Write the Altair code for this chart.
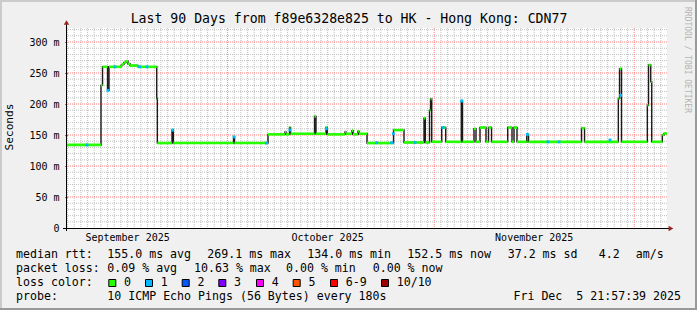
import altair as alt
import pandas as pd

MONO = "DejaVu Sans Mono"
LEFT, TOP, W, H = 67, 28, 600, 200
T0 = pd.Timestamp("2025-09-06 21:57:39")
SPAN_DAYS = 90
Y_MAX = 322.6

def day(ts):
    return (pd.Timestamp(ts) - T0) / pd.Timedelta(days=1)

# ---------------- data ----------------
# median rtt (ms), piecewise constant: day (since start) where a level begins -> level
rtt_day = [0, 5.10, 5.33, 6.08, 6.30, 8.10, 8.25, 8.55, 8.85, 9.15, 9.45, 10.65, 13.46, 13.55,
           15.75, 15.95, 24.98, 25.13, 30.15, 32.70, 32.85, 33.38, 33.53, 37.13, 37.35, 38.85,
           39.05, 41.70, 41.85, 42.75, 42.90, 43.65, 43.80, 45.00, 48.98, 50.55, 53.55, 53.75,
           54.38, 54.53, 54.71, 56.21, 56.81, 59.15, 59.33, 61.05, 61.35, 61.95, 62.85, 63.23,
           63.68, 66.11, 66.75, 67.05, 67.50, 68.96, 69.23, 77.18, 77.63, 82.70, 82.88, 83.18,
           87.05, 87.23, 87.56, 87.71, 89.30, 89.55]
rtt_ms = [134, 230, 260, 222, 260, 262, 264, 267, 269, 265, 262, 260, 209, 137,
          158, 137, 147, 137, 151, 155, 151, 162, 152, 180, 152, 162,
          151, 155, 152, 157, 151, 156, 152, 137, 158, 138, 177, 138,
          190, 208, 139, 162, 139, 205, 139, 160, 139, 162, 139, 162,
          139, 162, 139, 162, 139, 151, 139, 161, 139, 209, 257, 139,
          198, 263, 236, 139, 150, 152.5]

# samples with 1 lost ping (light blue)
loss1_day = [3.0, 6.15, 7.2, 10.9, 12.0, 15.85, 25.05, 29.9, 33.45, 38.9, 46.45, 48.7,
             48.95, 52.2, 56.4, 59.2, 69.05, 72.15, 73.8, 81.45, 83.05]
loss1_ms = [134, 222, 260, 260, 260, 158, 147, 137, 158, 160, 137.6, 137.6,
            152, 138, 162, 205, 151, 139, 139, 142, 214]

month_starts = ["2025-10-01", "2025-11-01", "2025-12-01"]
month_labels = ["September 2025", "October 2025", "November 2025"]
month_label_at = ["2025-09-16", "2025-10-16", "2025-11-16"]

y_ticks = [0, 50, 100, 150, 200, 250, 300]

loss_labels = ["0", "1", "2", "3", "4", "5", "6-9", "10/10"]
loss_colors = ["#26ff00", "#00b8ff", "#0059ff", "#7e00ff", "#ff00ff", "#ff5500", "#ff0000", "#a10000"]

title_text = "Last 90 Days from f89e6328e825 to HK - Hong Kong: CDN77"

# ---------------- tables ----------------
ends = rtt_day[1:] + [SPAN_DAYS]
seg = pd.DataFrame({"d0": rtt_day, "d1": ends, "ms": rtt_ms})
line = pd.DataFrame({"d": rtt_day + [SPAN_DAYS], "ms": rtt_ms + [rtt_ms[-1]]})
loss1 = pd.DataFrame({"d": loss1_day, "ms": loss1_ms})

midnights = pd.date_range("2025-09-07", "2025-12-05", freq="D")
ms_days = [day(m) for m in month_starts]
minor_x = pd.DataFrame({"d": [day(t) for t in midnights if t.strftime("%Y-%m-%d") not in month_starts]})
major_x = pd.DataFrame({"d": ms_days})
minor_y = pd.DataFrame({"v": [v for v in range(10, 330, 10) if v % 50 != 0]})
major_y = pd.DataFrame({"v": [v for v in range(50, 330, 50)]})
mlab = pd.DataFrame({"d": [day(t) for t in month_label_at], "t": month_labels})
one = pd.DataFrame({"k": [0]})

xs = alt.Scale(domain=[0, SPAN_DAYS], nice=False, zero=False)
ys = alt.Scale(domain=[0, Y_MAX], nice=False, zero=True)

y_axis = alt.Axis(values=y_ticks, labelExpr="datum.value == 0 ? '0' : datum.value + ' m'",
                  labelFont=MONO, labelFontSize=10, labelColor="black", ticks=True, tickSize=2,
                  tickColor="black", labelPadding=6, domain=False, grid=False, title=None)

def X(f):
    return alt.X(f, type="quantitative", scale=xs, axis=None)

def Y(f):
    return alt.Y(f, type="quantitative", scale=ys, axis=y_axis)

layers = []
# frame shading
def rect(x0, x1, y0, y1, color):
    return alt.Chart(one).mark_rect(color=color).encode(
        x=alt.value(x0 - LEFT), x2=alt.value(x1 - LEFT), y=alt.value(y0 - TOP), y2=alt.value(y1 - TOP))

layers += [rect(0, 697, 0, 2, "#cbcbcb"), rect(0, 2, 0, 310, "#cbcbcb"),
           rect(0, 697, 308, 310, "#999999"), rect(695, 697, 0, 310, "#999999")]

# grid
layers.append(alt.Chart(minor_x).mark_rule(color="#c0c0c0", strokeDash=[1, 1], strokeWidth=1).encode(x=X("d")))
layers.append(alt.Chart(minor_y).mark_rule(color="#c0c0c0", strokeDash=[1, 1], strokeWidth=1).encode(y=Y("v")))
layers.append(alt.Chart(major_x).mark_rule(color="#ff8080", strokeDash=[1, 1], strokeWidth=1).encode(x=X("d")))
layers.append(alt.Chart(major_y).mark_rule(color="#ff8080", strokeDash=[1, 1], strokeWidth=1).encode(y=Y("v")))

# data
layers.append(alt.Chart(line).mark_line(interpolate="step-after", color="#1a1a1a", strokeWidth=1.4).encode(
    x=X("d"), y=Y("ms")))
layers.append(alt.Chart(seg).mark_rule(color=loss_colors[0], strokeWidth=2.6).encode(
    x=X("d0"), x2="d1", y=Y("ms")))
layers.append(alt.Chart(loss1).mark_square(color=loss_colors[1], size=8, opacity=1).encode(
    x=X("d"), y=Y("ms")))

# axes lines + arrows
layers.append(alt.Chart(one).mark_rule(color="black", strokeWidth=1).encode(
    x=alt.value(-4), x2=alt.value(W + 3), y=alt.value(H + 0.5)))
layers.append(alt.Chart(one).mark_rule(color="black", strokeWidth=1).encode(
    x=alt.value(-0.5), y=alt.value(-4), y2=alt.value(H + 3)))
layers.append(alt.Chart(one).mark_point(shape="triangle-up", filled=True, color="#992222", size=30, opacity=1).encode(
    x=alt.value(-0.5), y=alt.value(-5.5)))
layers.append(alt.Chart(one).mark_point(shape="triangle-right", filled=True, color="#992222", size=30, opacity=1).encode(
    x=alt.value(W + 4), y=alt.value(H + 0.5)))

# month labels
layers.append(alt.Chart(mlab).mark_text(font=MONO, fontSize=10, color="black", align="center", baseline="middle").encode(
    x=X("d"), y=alt.value(238 - TOP), text="t:N"))

def label(text, x, y, size=11.6, align="left", angle=None, color="black"):
    props = dict(text=text, align=align, baseline="middle", font=MONO, fontSize=size, color=color)
    if angle is not None:
        props["angle"] = angle
    return alt.Chart(one).mark_text(**props).encode(x=alt.value(x - LEFT), y=alt.value(y - TOP))

layers.append(label(title_text, 349, 19, size=13.2, align="center"))
layers.append(label("Seconds", 10, 127, size=11.2, align="center", angle=270))
layers.append(label("RRDTOOL / TOBI OETIKER", 687, 60, size=8, align="center", angle=90, color="#b4b4b4"))

r1, r2, r3, r4 = 255, 269, 283, 297
for t, x in [("median rtt:", 16), ("155.0 ms avg", 107.3), ("269.1 ms max", 207.3), ("134.0 ms min", 307.3),
             ("152.5 ms now", 407.3), ("37.2 ms sd", 507.7), ("4.2", 598.7), ("am/s", 635.7)]:
    layers.append(label(t, x, r1))
for t, x in [("packet loss:", 16), ("0.09 % avg", 107.3), ("10.63 % max", 194), ("0.00 % min", 286),
             ("0.00 % now", 372.7)]:
    layers.append(label(t, x, r2))
layers.append(label("loss color:", 16, r3))
box_cx = [112.3, 149, 185.7, 222.3, 260, 296.7, 334, 385]
for lab, col, cx in zip(loss_labels, loss_colors, box_cx):
    layers.append(alt.Chart(one).mark_rect(color=col, stroke="black", strokeWidth=1).encode(
        x=alt.value(cx - 3.5 - LEFT), x2=alt.value(cx + 3.5 - LEFT),
        y=alt.value(r3 - 3.5 - TOP), y2=alt.value(r3 + 3.5 - TOP)))
    layers.append(label(lab, cx + 11.7, r3))
layers.append(label("probe:", 16, r4))
layers.append(label("10 ICMP Echo Pings (56 Bytes) every 180s", 107.3, r4))
layers.append(label("Fri Dec\u00a0 5 21:57:39 2025", 681, r4, align="right"))

chart = alt.layer(*layers).properties(
    width=W, height=H,
    padding={"left": LEFT, "top": TOP, "right": 697 - LEFT - W, "bottom": 310 - TOP - H},
    autosize=alt.AutoSizeParams(type="none"),
    background="#f0f0f0",
).configure_view(stroke=None, fill="white")

chart.save("out.html", embed_options={"renderer": "svg", "actions": False})
